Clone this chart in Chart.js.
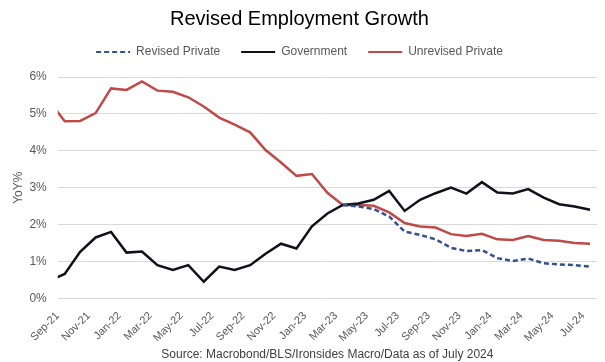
<!DOCTYPE html>
<html>
<head>
<meta charset="utf-8">
<script src="https://cdn.jsdelivr.net/npm/chart.js@4/dist/chart.umd.min.js"></script>
<style>
  html, body { margin: 0; padding: 0; background: #fff; }
</style>
</head>
<body>
<canvas id="growth" width="605" height="362"></canvas>
<script>
  // monthly YoY %, Aug-21 .. Jul-24 (Aug-21 sits just left of the axis and gets clipped)
  const months = ['Aug-21', 'Sep-21', 'Oct-21', 'Nov-21', 'Dec-21', 'Jan-22', 'Feb-22', 'Mar-22', 'Apr-22',
    'May-22', 'Jun-22', 'Jul-22', 'Aug-22', 'Sep-22', 'Oct-22', 'Nov-22', 'Dec-22', 'Jan-23', 'Feb-23',
    'Mar-23', 'Apr-23', 'May-23', 'Jun-23', 'Jul-23', 'Aug-23', 'Sep-23', 'Oct-23', 'Nov-23', 'Dec-23',
    'Jan-24', 'Feb-24', 'Mar-24', 'Apr-24', 'May-24', 'Jun-24', 'Jul-24'];

  const revisedPrivate = [null, null, null, null, null, null, null, null, null, null,
    null, null, null, null, null, null, null, null, null,
    2.53, 2.49, 2.42, 2.22, 1.81, 1.72, 1.60, 1.37, 1.28, 1.31,
    1.09, 1.01, 1.08, 0.95, 0.92, 0.90, 0.86];

  const government = [0.47, 0.66, 1.26, 1.65, 1.80, 1.24, 1.27, 0.90, 0.77, 0.90,
    0.45, 0.86, 0.77, 0.90, 1.21, 1.48, 1.35, 1.95, 2.30,
    2.53, 2.57, 2.67, 2.91, 2.37, 2.67, 2.85, 3.00, 2.84, 3.15,
    2.87, 2.84, 2.96, 2.73, 2.55, 2.49, 2.40];

  const unrevisedPrivate = [5.35, 4.80, 4.81, 5.02, 5.69, 5.65, 5.88, 5.63, 5.60, 5.45,
    5.20, 4.90, 4.71, 4.50, 4.02, 3.68, 3.32, 3.37, 2.86,
    2.53, 2.53, 2.51, 2.33, 2.04, 1.95, 1.92, 1.74, 1.69, 1.75,
    1.60, 1.58, 1.69, 1.58, 1.56, 1.50, 1.48];

  const tickMonths = ['Sep-21', 'Nov-21', 'Jan-22', 'Mar-22', 'May-22', 'Jul-22', 'Sep-22', 'Nov-22', 'Jan-23',
    'Mar-23', 'May-23', 'Jul-23', 'Sep-23', 'Nov-23', 'Jan-24', 'Mar-24', 'May-24', 'Jul-24'];

  const yTicks = [0, 1, 2, 3, 4, 5, 6];

  // x axis counts months from the start of Sep-21; points sit mid-month
  const midMonth = 0.45;
  const toPoints = vals => vals.map((v, i) => ({ x: i - 1 + midMonth, y: v }));
  const tickPos = label => months.indexOf(label) - 1;

  const textGrey = '#595959';

  // a bit more room under the legend than chart.js gives by default
  const legendGap = {
    id: 'legendGap',
    afterInit(chart) {
      const fit = chart.legend.fit;
      chart.legend.fit = function () {
        fit.call(this);
        this.height += 9;
      };
    }
  };

  const ctx = document.getElementById('growth').getContext('2d');

  const chart = new Chart(ctx, {
    type: 'line',
    data: {
      datasets: [{
        label: 'Revised Private',
        data: toPoints(revisedPrivate),
        borderColor: '#34508F',
        backgroundColor: '#34508F',
        borderWidth: 2.5,
        borderDash: [5, 3],
        pointRadius: 0,
        tension: 0,
        spanGaps: false
      }, {
        label: 'Government',
        data: toPoints(government),
        borderColor: '#10101E',
        backgroundColor: '#10101E',
        borderWidth: 2.5,
        pointRadius: 0,
        tension: 0
      }, {
        label: 'Unrevised Private',
        data: toPoints(unrevisedPrivate),
        borderColor: '#BE4B48',
        backgroundColor: '#BE4B48',
        borderWidth: 2.5,
        pointRadius: 0,
        tension: 0
      }]
    },
    plugins: [legendGap],
    options: {
      responsive: false,
      animation: false,
      clip: 0,
      layout: {
        padding: { left: 2, right: 8, top: 2, bottom: 0 }
      },
      plugins: {
        title: {
          display: true,
          text: 'Revised Employment Growth',
          color: '#000',
          font: { family: 'Liberation Sans', size: 20, weight: 'normal' },
          padding: { top: 5, bottom: -6 }
        },
        subtitle: {
          display: true,
          position: 'bottom',
          fullSize: false,
          text: 'Source: Macrobond/BLS/Ironsides Macro/Data as of July 2024',
          color: '#404040',
          font: { family: 'Liberation Sans', size: 12 },
          padding: { top: 0, bottom: 0 }
        },
        legend: {
          position: 'top',
          labels: {
            color: textGrey,
            font: { family: 'Liberation Sans', size: 12 },
            usePointStyle: true,
            pointStyle: 'line',
            pointStyleWidth: 34,
            padding: 21,
            // point-style samples lose the dataset dash, so put it back
            generateLabels: c => Chart.defaults.plugins.legend.labels.generateLabels(c).map(item => ({
              ...item,
              lineWidth: 2,
              lineDash: c.data.datasets[item.datasetIndex].borderDash || []
            }))
          }
        },
        tooltip: { enabled: false }
      },
      scales: {
        x: {
          type: 'linear',
          min: 0,
          max: 34.9,
          grid: { display: false },
          border: { display: false },
          afterBuildTicks: scale => {
            scale.ticks = tickMonths.map(m => ({ value: tickPos(m) }));
          },
          ticks: {
            autoSkip: false,
            maxRotation: 45,
            minRotation: 45,
            color: textGrey,
            font: { family: 'Liberation Sans', size: 11 },
            callback: value => months[value + 1]
          }
        },
        y: {
          min: 0,
          max: 6,
          afterBuildTicks: scale => {
            scale.ticks = yTicks.map(v => ({ value: v }));
          },
          grid: { color: '#D9D9D9', drawTicks: false },
          border: { display: false },
          ticks: {
            color: textGrey,
            padding: 11,
            font: { family: 'Liberation Sans', size: 12 },
            callback: value => value + '%'
          },
          title: {
            display: true,
            text: 'YoY%',
            color: textGrey,
            font: { family: 'Liberation Sans', size: 12 },
            padding: { top: 9, bottom: -7 }
          }
        }
      }
    }
  });
</script>
</body>
</html>
